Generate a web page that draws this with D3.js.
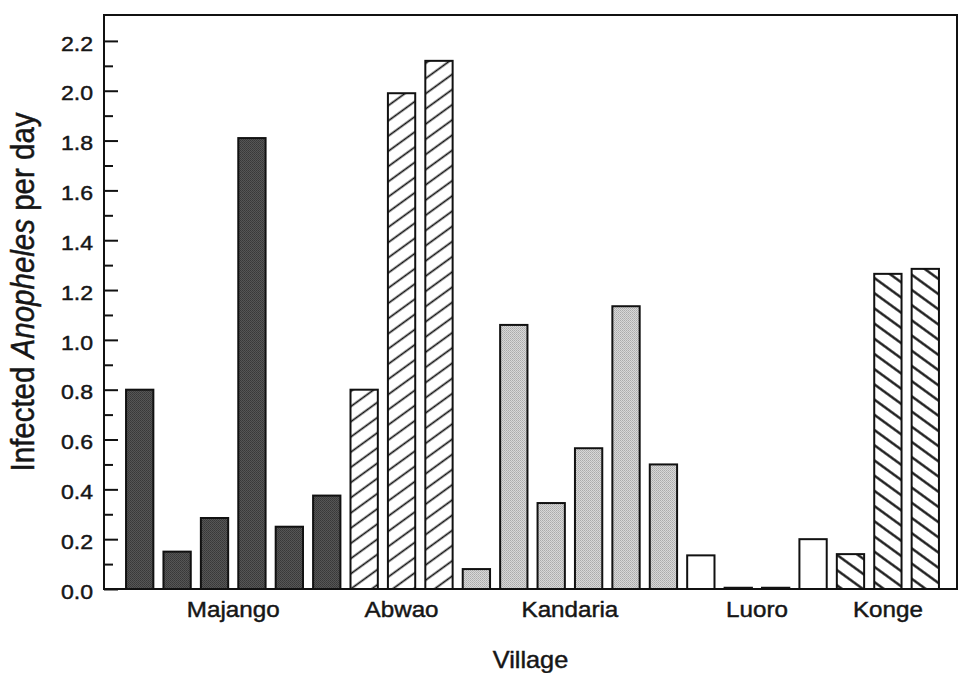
<!DOCTYPE html>
<html>
<head>
<meta charset="utf-8">
<script src="https://cdn.jsdelivr.net/npm/d3@7"></script>
<style>
  html, body { margin: 0; padding: 0; background: #fff; }
  svg { display: block; }
  text { font-family: "Liberation Sans", Arial, Helvetica, sans-serif; fill: #161616; stroke: #161616; stroke-width: 0.45px; }
</style>
</head>
<body>
<script>
// Infected Anopheles per day, by village (one bar per collection site)
const villages = ["Majango", "Abwao", "Kandaria", "Luoro", "Konge"];
const majango  = [0.80, 0.15, 0.285, 1.81, 0.25, 0.375];
const abwao    = [0.80, 1.99, 2.12];
const kandaria = [0.08, 1.06, 0.345, 0.565, 1.135, 0.50];
const luoro    = [0.135, 0.005, 0.005, 0.20];
const konge    = [0.14, 1.265, 1.285];
const yMajorTicks = [0.0, 0.2, 0.4, 0.6, 0.8, 1.0, 1.2, 1.4, 1.6, 1.8, 2.0, 2.2];
const yMinorTicks = [0.1, 0.3, 0.5, 0.7, 0.9, 1.1, 1.3, 1.5, 1.7, 1.9, 2.1];
const yTitleParts = ["Infected ", "Anopheles", " per day"];
const xTitle = "Village";

const seriesByVillage = [majango, abwao, kandaria, luoro, konge];
const fills = ["url(#stippleDark)", "url(#hatchFwd)", "url(#stippleLight)", "#ffffff", "url(#hatchBack)"];

// flatten to one record per bar
const bars = [];
seriesByVillage.forEach((vals, g) => vals.forEach((v, j) => bars.push({ village: villages[g], group: g, idx: bars.length, value: v })));

const W = 959, H = 673;
const frame = { left: 104, right: 957, top: 15, bottom: 589 };
const textStretch = 1.1; // horizontal widening of the typeset lettering

const svg = d3.select("body").append("svg").attr("width", W).attr("height", H);
const defs = svg.append("defs");

// dark stipple
const pd = defs.append("pattern").attr("id", "stippleDark").attr("patternUnits", "userSpaceOnUse").attr("width", 2).attr("height", 2);
pd.append("rect").attr("width", 2).attr("height", 2).attr("fill", "#565656");
pd.append("rect").attr("width", 1).attr("height", 1).attr("fill", "#383838");
pd.append("rect").attr("x", 1).attr("y", 1).attr("width", 1).attr("height", 1).attr("fill", "#3e3e3e");

// light stipple
const pl = defs.append("pattern").attr("id", "stippleLight").attr("patternUnits", "userSpaceOnUse").attr("width", 2).attr("height", 2);
pl.append("rect").attr("width", 2).attr("height", 2).attr("fill", "#d8d8d8");
pl.append("rect").attr("width", 1).attr("height", 1).attr("fill", "#ababab");
pl.append("rect").attr("x", 1).attr("y", 1).attr("width", 1).attr("height", 1).attr("fill", "#b8b8b8");

// diagonal hatches
function hatch(id, angle, sw) {
  const gap = 12.3;
  const p = defs.append("pattern").attr("id", id).attr("patternUnits", "userSpaceOnUse")
    .attr("width", 10).attr("height", gap).attr("patternTransform", `rotate(${angle})`);
  p.append("rect").attr("width", 10).attr("height", gap).attr("fill", "#fff");
  p.append("line").attr("x1", -1).attr("x2", 11).attr("y1", gap / 2).attr("y2", gap / 2)
    .attr("stroke", "#111").attr("stroke-width", sw);
}
hatch("hatchFwd", -36, 1.7);
hatch("hatchBack", 36, 2.3);

const x = d3.scaleBand().domain(bars.map(d => d.idx)).range([121, 944]).paddingInner(0.27).paddingOuter(0.135);
const y = d3.scaleLinear().domain([0, 2.3]).range([frame.bottom, 16]);

// bars
svg.append("g").selectAll("rect").data(bars).join("rect")
  .attr("x", d => x(d.idx))
  .attr("width", x.bandwidth())
  .attr("y", d => y(d.value))
  .attr("height", d => y(0) - y(d.value))
  .attr("fill", d => fills[d.group])
  .attr("stroke", "#111")
  .attr("stroke-width", 2);

// y axis: inward major and minor ticks
const yAxisMajor = d3.axisLeft(y).tickValues(yMajorTicks).tickFormat(d3.format(".1f"))
  .tickSizeInner(-14).tickSizeOuter(0).tickPadding(11);
const gy = svg.append("g").attr("transform", `translate(${frame.left},0)`).call(yAxisMajor);
gy.select(".domain").remove();
gy.selectAll(".tick line").attr("stroke", "#111").attr("stroke-width", 2);
gy.selectAll(".tick text")
  .attr("x", null).attr("dy", null)
  .attr("dominant-baseline", "central")
  .attr("font-size", 21)
  .attr("font-family", "Liberation Sans, Arial, sans-serif")
  .attr("fill", "#161616")
  .attr("transform", `translate(-11,2) scale(${textStretch},1)`);

const yAxisMinor = d3.axisLeft(y).tickValues(yMinorTicks).tickFormat("").tickSizeInner(-9).tickSizeOuter(0);
const gyMinor = svg.append("g").attr("transform", `translate(${frame.left},0)`).call(yAxisMinor);
gyMinor.select(".domain").remove();
gyMinor.selectAll(".tick line").attr("stroke", "#111").attr("stroke-width", 2);

// plot frame
svg.append("rect")
  .attr("x", frame.left).attr("y", frame.top)
  .attr("width", frame.right - frame.left).attr("height", frame.bottom - frame.top)
  .attr("fill", "none").attr("stroke", "#111").attr("stroke-width", 2);

// village labels centred under each group of bars
const groupCentres = villages.map((v, g) => {
  const idxs = bars.filter(b => b.group === g).map(b => b.idx);
  return { name: v, cx: (x(d3.min(idxs)) + x(d3.max(idxs)) + x.bandwidth()) / 2 };
});
svg.append("g").selectAll("text").data(groupCentres).join("text")
  .attr("transform", d => `translate(${d.cx},617) scale(${textStretch},1)`)
  .attr("text-anchor", "middle")
  .attr("font-size", 22)
  .text(d => d.name);

// axis titles
svg.append("text")
  .attr("transform", `translate(${(frame.left + frame.right) / 2},668) scale(${textStretch},1)`)
  .attr("text-anchor", "middle")
  .attr("font-size", 23)
  .text(xTitle);

const yt = svg.append("text")
  .attr("transform", `translate(34,292) scale(${textStretch},1) rotate(-90)`)
  .attr("text-anchor", "middle")
  .attr("font-size", 29.5);
yt.selectAll("tspan").data(yTitleParts).join("tspan")
  .attr("font-style", (d, i) => i === 1 ? "italic" : null)
  .text(d => d);
</script>
</body>
</html>
